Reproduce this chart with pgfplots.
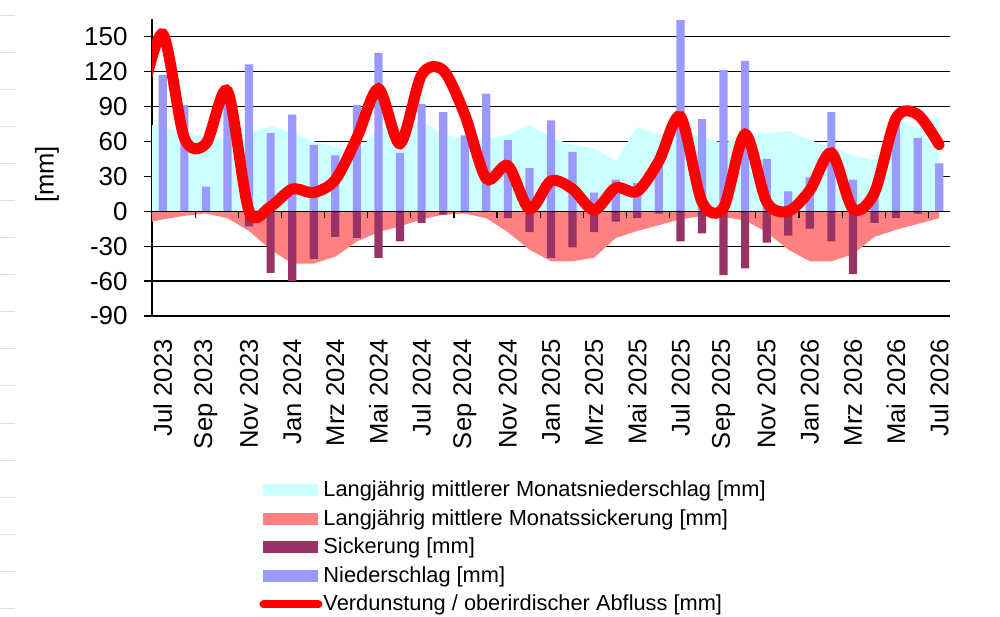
\documentclass[border=0pt]{standalone}
\usepackage{fontspec}
\setmainfont{Liberation Sans}
\usepackage{pgfplots}
\usepackage{pgfplotstable}
\pgfplotsset{compat=1.18}

\definecolor{nsmittel}{HTML}{CCFFFF}
\definecolor{sickmittel}{HTML}{FF8080}
\definecolor{sicker}{HTML}{993366}
\definecolor{nieder}{HTML}{9999FF}

% monthly values, Jul 2023 = 0
\pgfplotstableread{
i nieder sicker
0 117 0
1 91 0
2 21 0
3 98 0
4 126 -13
5 67 -53
6 83 -60
7 57 -41
8 48 -22
9 91 -23
10 136 -40
11 50 -26
12 92 -10
13 85 -3
14 65 -1
15 101 0
16 61 -6
17 37 -18
18 78 -40
19 51 -31
20 16 -18
21 27 -9
22 24 -6
23 45 -2
24 164 -26
25 79 -19
26 121 -55
27 129 -49
28 45 -27
29 17 -21
30 29 -15
31 85 -26
32 27 -54
33 20 -10
34 78 -6
35 63 -2
36 41 0
}\monat

% long-term means and evaporation (first row: Jun 2023, clipped)
\pgfplotstableread{
i nsm ssm verd
-1 76 -11 95
0 72 -7 152
1 68 -4 63
2 63 -2 58
3 63 -6 103
4 67 -17 0
5 73 -33 4
6 67 -45 19
7 60 -45 16
8 55 -39 27
9 51 -26 63
10 70 -18 105
11 75 -13 58
12 77 -7 117
13 66 -3 121
14 62 -2 83
15 62 -6 28
16 66 -18 39
17 74 -33 2
18 63 -43 26
19 57 -43 19
20 54 -40 1
21 43 -23 20
22 72 -17 17
23 66 -12 43
24 67 -7 81
25 64 -4 8
26 58 -5 3
27 66 -8 66
28 67 -18 8
29 69 -33 0
30 61 -43 18
31 55 -43 50
32 48 -37 2
33 44 -22 16
34 80 -16 80
35 71 -11 83
36 81 -6 57
}\mittel

\begin{document}
\begin{tikzpicture}
\path[use as bounding box] (0,0) rectangle (500pt,308pt);
\foreach \yy in {16,53,90,127,164,201,238,275,312,349,386,423,460,497,534,571,608}
  \draw[black!12, line width=0.5pt] (0pt,{(616-\yy)*0.5pt}) -- (7.5pt,{(616-\yy)*0.5pt});
\begin{axis}[
    at={(76pt,150pt)}, anchor=south west,
    scale only axis,
    width=399pt, height=148.5pt,
    xmin=-0.5, xmax=36.5,
    ymin=-90, ymax=165,
    axis y line*=left, axis x line*=bottom,
    axis line style={black, line width=0.6pt, -},
    xtick={0,2,...,36},
    xticklabels={Jul 2023,Sep 2023,Nov 2023,Jan 2024,Mrz 2024,Mai 2024,Jul 2024,Sep 2024,Nov 2024,Jan 2025,Mrz 2025,Mai 2025,Jul 2025,Sep 2025,Nov 2025,Jan 2026,Mrz 2026,Mai 2026,Jul 2026},
    xtick style={draw=none},
    xticklabel style={yshift=-7.5pt, rotate=90, anchor=east, inner sep=0pt,
        font=\fontsize{12.8}{14}\selectfont},
    ytick={-90,-60,...,150},
    yticklabels={-90,-60,-30,0,30,60,90,120,150},
    tick align=outside,
    major tick length=4pt,
    ytick style={black, line width=0.6pt},
    yticklabel style={anchor=east, inner sep=0pt, xshift=-8pt,
        font=\fontsize{13}{15}\selectfont},
    ymajorgrids,
    major grid style={black, line width=0.6pt},
    ylabel={[mm]},
    ylabel style={at={(axis description cs:-0.1316,0.4764)}, anchor=center,
        font=\fontsize{12.8}{14}\selectfont},
    legend style={at={(axis description cs:0.1266,-0.5330)}, anchor=north west,
        draw=none, fill=none, font=\fontsize{10.9}{12}\selectfont,
        row sep=2.9pt, nodes={inner ysep=1pt, inner xsep=1.5pt},
        /tikz/every odd column/.append style={column sep=-1pt}},
    legend cell align=left,
    clip=true,
]
\addplot[fill=nsmittel, draw=none,
    legend image code/.code={\fill[nsmittel] (0pt,-3pt) rectangle (27.5pt,3pt);}]
    table[x=i, y=nsm]{\mittel} \closedcycle;
\addlegendentry{Langjährig mittlerer Monatsniederschlag [mm]}
\addplot[fill=sickmittel, draw=none,
    legend image code/.code={\fill[sickmittel] (0pt,-3pt) rectangle (27.5pt,3pt);}]
    table[x=i, y=ssm]{\mittel} \closedcycle;
\addlegendentry{Langjährig mittlere Monatssickerung [mm]}
\addplot[ybar, bar width=0.38, bar shift=0pt, fill=sicker, draw=none,
    legend image code/.code={\fill[sicker] (0pt,-3pt) rectangle (27.5pt,3pt);}]
    table[x=i, y=sicker]{\monat};
\addlegendentry{Sickerung [mm]}
\addplot[ybar, bar width=0.38, bar shift=0pt, fill=nieder, draw=none,
    legend image code/.code={\fill[nieder] (0pt,-3pt) rectangle (27.5pt,3pt);}]
    table[x=i, y=nieder]{\monat};
\addlegendentry{Niederschlag [mm]}
\draw[black, line width=0.6pt] (axis cs:-0.5,0) -- (axis cs:36.5,0);
\pgfplotsinvokeforeach{1.5,3.5,...,35.5}{
  \draw[black, line width=0.6pt] (axis cs:#1,0) -- ++(0pt,-3.5pt);
}
\addplot[red, line width=5.5pt, smooth, line cap=round,
    legend image code/.code={\draw[red, line width=4pt, line cap=round] (0pt,0pt) -- (27.5pt,0pt);}]
    table[x=i, y=verd]{\mittel};
\addlegendentry{Verdunstung / oberirdischer Abfluss [mm]}
\end{axis}
\end{tikzpicture}
\end{document}
